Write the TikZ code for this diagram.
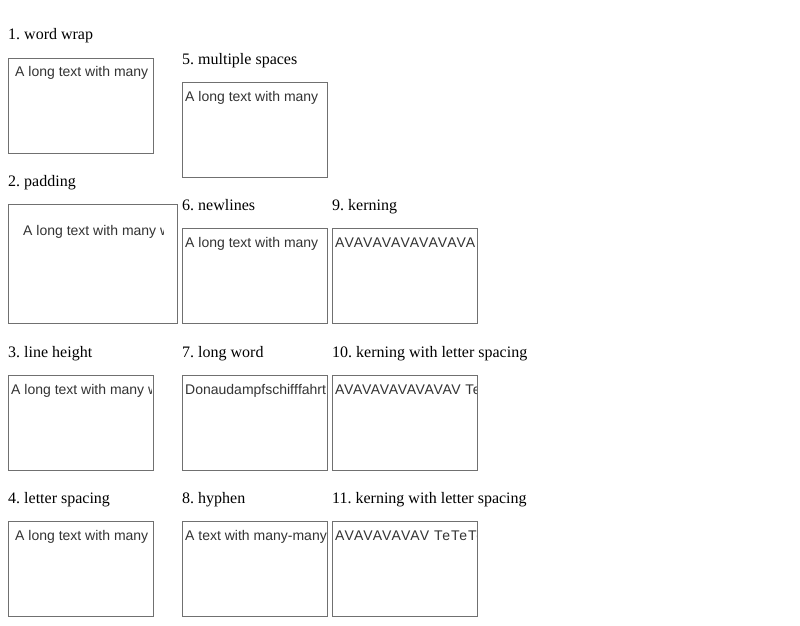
\documentclass[tikz,border=0pt]{standalone}
\usepackage{fontspec}
\setmainfont{Liberation Serif}
\newfontfamily\boxfont{Liberation Sans}[Kerning=Off,Ligatures=NoCommon]
\newfontfamily\boxkernA{Liberation Sans}[Kerning=On,Ligatures=NoCommon,LetterSpace=4.6]
\newfontfamily\boxkernB{Liberation Sans}[Kerning=On,Ligatures=NoCommon,LetterSpace=7.9]
\definecolor{framegray}{HTML}{707070}
\definecolor{textgray}{HTML}{333333}
\frenchspacing
\tikzset{
  frame/.style={draw=framegray,line width=1pt,inner sep=0pt,outer sep=0pt,anchor=north west},
  lbl/.style={inner sep=0pt,anchor=base west,font=\fontsize{16}{19}\selectfont,text=black},
  boxtxt/.style={inner sep=0pt,anchor=base west,font=\boxfont\fontsize{14}{16}\selectfont,text=textgray},
}
% #1 name, #2 left, #3 top, #4 right, #5 bottom (pixel edges, inclusive)
\newcommand{\mkframe}[5]{%
  \node[frame,minimum width={(#4-#2)*1pt},minimum height={(#5-#3)*1pt}] (#1) at (#2+0.5,#3+0.5) {};}
\begin{document}
\begin{tikzpicture}[x=1pt,y=-1pt]
\useasboundingbox[fill=white] (0,0) rectangle (800,626);

% column 1
\mkframe{b1}{8}{58}{153}{153}
\node[lbl] (l1) at (8,40) {1. word wrap};
\begin{scope}\clip (9,59) rectangle (153,153);
\node[boxtxt] (t1) at (15,77) {A long text with many};
\end{scope}

\mkframe{b2}{8}{204}{177}{323}
\node[lbl] (l2) at (8,186) {2. padding};
\begin{scope}\clip (9,205) rectangle (163,323);
\node[boxtxt] (t2) at (23,235) {A long text with many words};
\end{scope}

\mkframe{b3}{8}{375}{153}{470}
\node[lbl] (l3) at (8,357) {3. line height};
\begin{scope}\clip (9,376) rectangle (151.5,470);
\node[boxtxt] (t3) at (11,394) {A long text with many words};
\end{scope}

\mkframe{b4}{8}{521}{153}{616}
\node[lbl] (l4) at (8,503) {4. letter spacing};
\begin{scope}\clip (9,522) rectangle (153,616);
\node[boxtxt] (t4) at (15,540) {A long text with many};
\end{scope}

% column 2
\mkframe{b5}{182}{82}{327}{177}
\node[lbl] (l5) at (182,64) {5. multiple spaces};
\begin{scope}\clip (183,83) rectangle (327,177);
\node[boxtxt] (t5) at (185,101) {A long text with many};
\end{scope}

\mkframe{b6}{182}{228}{327}{323}
\node[lbl] (l6) at (182,210) {6. newlines};
\begin{scope}\clip (183,229) rectangle (327,323);
\node[boxtxt] (t6) at (185,247) {A long text with many};
\end{scope}

\mkframe{b7}{182}{375}{327}{470}
\node[lbl] (l7) at (182,357) {7. long word};
\begin{scope}\clip (183,376) rectangle (327,470);
\node[boxtxt] (t7) at (185,394) {Donaudampfschifffahrt};
\end{scope}

\mkframe{b8}{182}{521}{327}{616}
\node[lbl] (l8) at (182,503) {8. hyphen};
\begin{scope}\clip (183,522) rectangle (327,616);
\node[boxtxt] (t8) at (185,540) {A text with many-many};
\end{scope}

% column 3
\mkframe{b9}{332}{228}{477}{323}
\node[lbl] (l9) at (332,210) {9. kerning};
\begin{scope}\clip (333,229) rectangle (477,323);
\node[boxtxt] (t9) at (335,247) {AVAVAVAVAVAVAVA};
\end{scope}

\mkframe{b10}{332}{375}{477}{470}
\node[lbl] (l10) at (332,357) {10. kerning with letter spacing};
\begin{scope}\clip (333,376) rectangle (476,470);
\node[boxtxt,font=\boxkernA\fontsize{14}{16}\selectfont] (t10) at (335,394) {AVAVAVAVAVAVAV TeTeTe};
\end{scope}

\mkframe{b11}{332}{521}{477}{616}
\node[lbl] (l11) at (332,503) {11. kerning with letter spacing};
\begin{scope}\clip (333,522) rectangle (476,616);
\node[boxtxt,font=\boxkernB\fontsize{14}{16}\selectfont] (t11) at (335,540) {AVAVAVAVAV TeTeTeTe};
\end{scope}

\end{tikzpicture}
\end{document}
